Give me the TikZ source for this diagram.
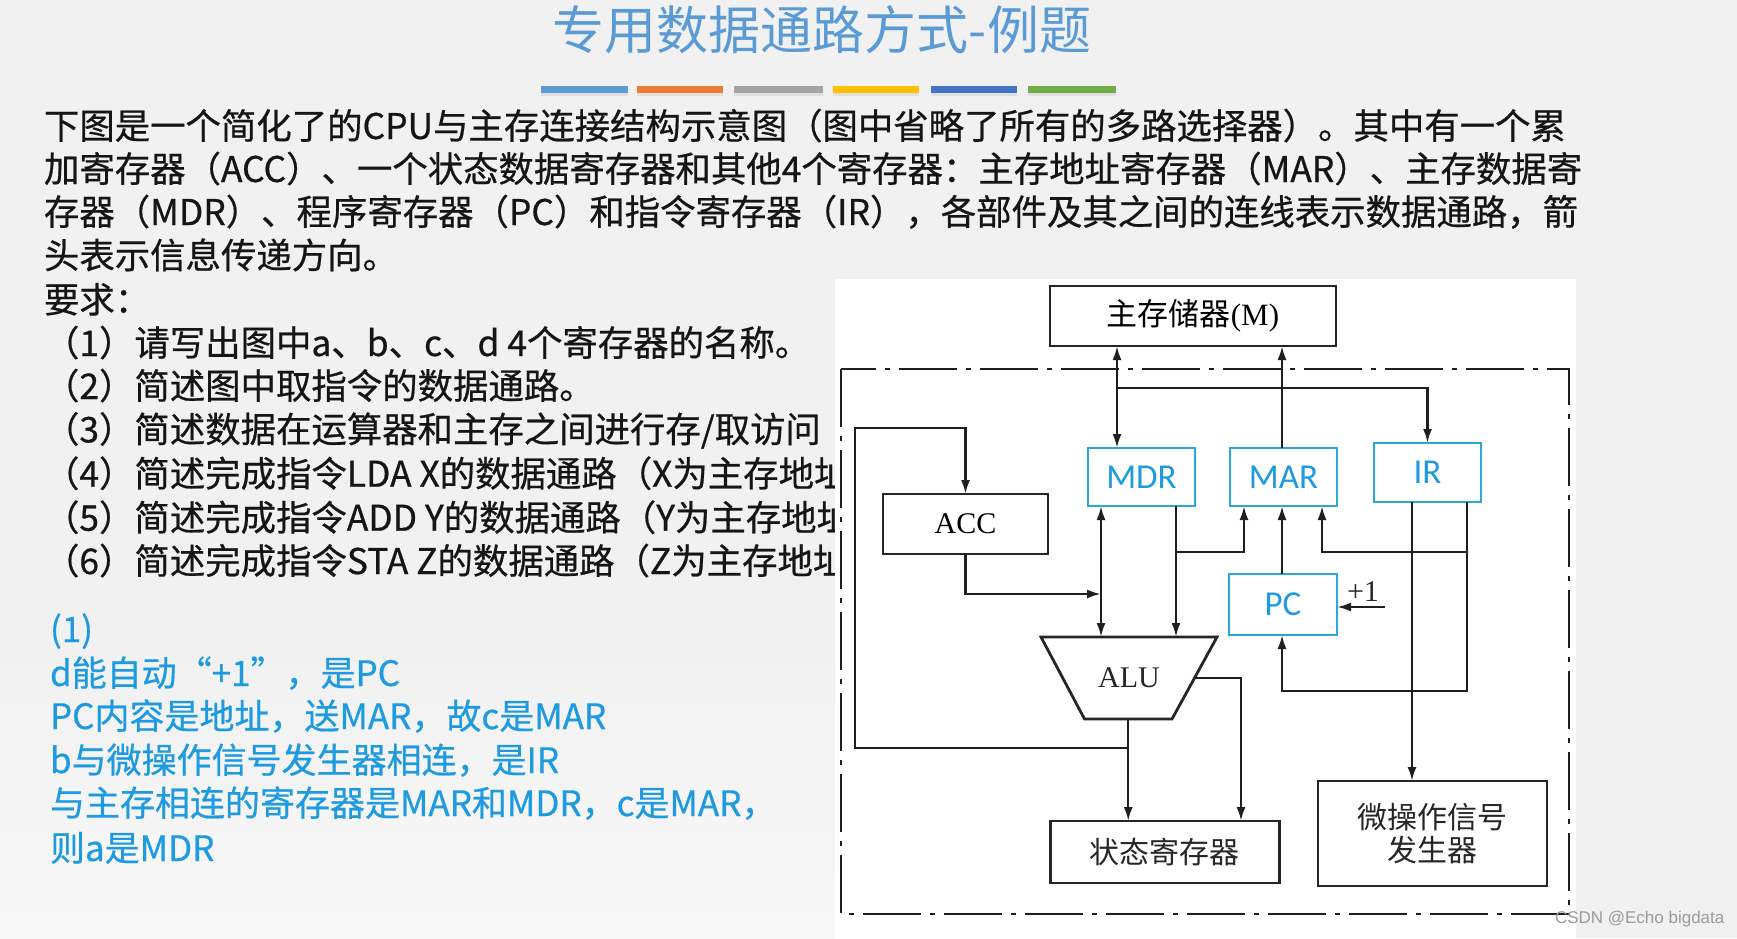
\documentclass[tikz,border=0pt]{standalone}
\usepackage{fontspec}
\setmainfont{Noto Sans CJK SC}
\newfontfamily\cjkfont{Noto Sans CJK SC}
\newfontfamily\cjkbold[FakeBold=0.6]{Noto Sans CJK SC}
\newfontfamily\timesfont{Liberation Serif}
\newfontfamily\calfont{Carlito}
\newfontfamily\wmfont{Liberation Sans}
\usetikzlibrary{arrows.meta}
\definecolor{bgcol}{HTML}{F1F1F1}
\definecolor{bgcolb}{HTML}{F8F8F8}
\definecolor{titleblue}{HTML}{5B9BD5}
\definecolor{ansblue}{HTML}{1E9BE0}
\definecolor{boxcyan}{HTML}{2AA8DE}
\definecolor{txt}{HTML}{151515}
\definecolor{barA}{HTML}{5B9BD5}
\definecolor{barB}{HTML}{ED7D31}
\definecolor{barC}{HTML}{A5A5A5}
\definecolor{barD}{HTML}{FFC000}
\definecolor{barE}{HTML}{4472C4}
\definecolor{barF}{HTML}{70AD47}
\definecolor{wmgray}{HTML}{9A9A9A}
\begin{document}
\begin{tikzpicture}[x=1pt,y=-1pt,
  every node/.style={inner sep=0pt,outer sep=0pt},
  body/.style={anchor=base west,font=\cjkbold\fontsize{35.4}{43}\selectfont,text=txt},
  ans/.style={anchor=base west,font=\cjkbold\fontsize{35}{43}\selectfont,text=ansblue},
  blkbox/.style={draw=black!85,line width=2.8pt,fill=white},
  regbox/.style={draw=boxcyan,line width=1.8pt,fill=white,text=ansblue,font=\calfont\fontsize{35}{35}\selectfont,minimum width=107pt,minimum height=58pt},
  wire/.style={draw=black!88,line width=2.4pt},
  arr/.style={wire,-{Latex[length=14pt,width=9pt]}},
  darr/.style={wire,{Latex[length=14pt,width=9pt]}-{Latex[length=14pt,width=9pt]}},
  boundary/.style={draw=black!88,line width=2.5pt,dash pattern=on 58pt off 9pt on 5pt off 9pt},
  cjklabel/.style={font=\cjkfont\fontsize{30}{33}\selectfont,text=black!85}
]
% background
\fill[bgcol] (0,0) rectangle (1737,938);
\useasboundingbox (0,0) rectangle (1737,938);
\shade[top color=bgcol,bottom color=bgcolb] (0,640) rectangle (835,938);

% title
\node[font=\cjkfont\fontsize{52}{52}\selectfont,text=titleblue,anchor=base] (title) at (822,49) {专用数据通路方式-例题};

% colour bars
\fill[black!12] (541,90) rectangle (628,96);
\fill[black!12] (637,90) rectangle (723,96);
\fill[black!12] (734,90) rectangle (823,96);
\fill[black!12] (833,90) rectangle (919,96);
\fill[black!12] (931,90) rectangle (1017,96);
\fill[black!12] (1028,90) rectangle (1116,96);
\fill[barA] (541,86) rectangle (628,93);
\fill[barB] (637,86) rectangle (723,93);
\fill[barC] (734,86) rectangle (823,93);
\fill[barD] (833,86) rectangle (919,93);
\fill[barE] (931,86) rectangle (1017,93);
\fill[barF] (1028,86) rectangle (1116,93);

% question text
\node[body] (q1) at (44,139) {下图是一个简化了的CPU与主存连接结构示意图（图中省略了所有的多路选择器）。其中有一个累};
\node[body] (q2) at (44,182) {加寄存器（ACC）、一个状态数据寄存器和其他4个寄存器：主存地址寄存器（MAR）、主存数据寄};
\node[body] (q3) at (44,225) {存器（MDR）、程序寄存器（PC）和指令寄存器（IR），各部件及其之间的连线表示数据通路，箭};
\node[body] (q4) at (44,268.5) {头表示信息传递方向。};
\node[body] (q5) at (44,312.7) {要求：};
\node[body] (r1) at (44,356) {（1）请写出图中a、b、c、d 4个寄存器的名称。};
\node[body] (r2) at (44,399) {（2）简述图中取指令的数据通路。};
\node[body] (r3) at (44,442.4) {（3）简述数据在运算器和主存之间进行存/取访问};
\node[body] (r4) at (44,486.7) {（4）简述完成指令LDA X的数据通路（X为主存地址};
\node[body] (r5) at (44,530.7) {（5）简述完成指令ADD Y的数据通路（Y为主存地址};
\node[body] (r6) at (44,574) {（6）简述完成指令STA Z的数据通路（Z为主存地址};

% answer text
\node[ans] (a0) at (50,642) {(1)};
\node[ans] (a1) at (50,686) {d能自动“+1”，是PC};
\node[ans] (a2) at (50,729) {PC内容是地址，送MAR，故c是MAR};
\node[ans] (a3) at (50,773) {b与微操作信号发生器相连，是IR};
\node[ans] (a4) at (50,816) {与主存相连的寄存器是MAR和MDR，c是MAR，};
\node[ans] (a5) at (50,861) {则a是MDR};

% diagram panel
\fill[white] (835,279) rectangle (1576,938);
\draw[boundary] (841,369) rectangle (1569,914);

% boxes
\node[blkbox,minimum width=286pt,minimum height=60pt] (M) at (1193,316)
  {\fontsize{31}{31}\selectfont\cjkfont 主存储器\timesfont (M)};
\node[regbox] (MDR) at (1141.5,477) {MDR};
\node[regbox] (MAR) at (1283.5,477) {MAR};
\node[regbox,minimum height=59pt] (IR) at (1427.5,472.5) {IR};
\node[regbox,minimum width=108pt,minimum height=61pt] (PC) at (1283,604.5) {PC};
\node[blkbox,minimum width=165pt,minimum height=60pt,font=\timesfont\fontsize{30}{30}\selectfont] (ACC) at (965.5,524) {ACC};
\node[blkbox,minimum width=229pt,minimum height=62pt,cjklabel] (SR) at (1164.75,852) {状态寄存器};
\node[blkbox,minimum width=229pt,minimum height=105pt,cjklabel,align=center] (CU) at (1432.5,833.5) {微操作信号\\发生器};

% ALU trapezoid
\coordinate (aluTL) at (1041,637);
\coordinate (aluTR) at (1217,637);
\coordinate (aluBR) at (1172,719);
\coordinate (aluBL) at (1084.5,719);
\coordinate (aluR) at (1194.5,678);
\coordinate (aluB) at (1128.25,719);
\draw[black!85,line width=2.8pt,fill=white,line join=miter] (aluTL) -- (aluTR) -- (aluBR) -- (aluBL) -- cycle;
\node[font=\timesfont\fontsize{30}{30}\selectfont,text=black!85] (ALU) at (1129,678) {ALU};

% helper coordinates
\coordinate (xa) at (1117,0);
\coordinate (xb) at (1282,0);
\coordinate (xc) at (1101,0);
\coordinate (xd) at (1176,0);
\coordinate (xe) at (1244,0);
\coordinate (xf) at (1322,0);
\coordinate (xg) at (1412,0);
\coordinate (xh) at (1467,0);
\coordinate (xi) at (1241,0);
\coordinate (xl) at (855,0);
\coordinate (yb) at (0,388);
\coordinate (yc) at (0,552);
\coordinate (yd) at (0,691);
\coordinate (ye) at (0,748);
\coordinate (yf) at (0,428);
\coordinate (yg) at (0,594);
\coordinate (plus) at (1385,607);

% connectors
\draw[darr] (MDR.north -| xa) -- (M.south -| xa);
\draw[arr] (xa |- yb) -| (IR.north);
\draw[arr] (MAR.north -| xb) -- (M.south -| xb);
\draw[darr] (MDR.south -| xc) -- (aluTL -| xc);
\draw[arr] (ACC.south) |- (xc |- yg);
\draw[arr] (MDR.south -| xd) -- (aluTL -| xd);
\draw[arr] (xd |- yc) -| (MAR.south -| xe);
\draw[arr] (PC.north -| xb) -- (MAR.south -| xb);
\draw[arr] (IR.south -| xh) |- (xf |- yc) -- (MAR.south -| xf);
\draw[arr] (IR.south -| xh) |- (xb |- yd) -- (PC.south -| xb);
\draw[arr] (IR.south -| xg) -- (CU.north -| xg);
\draw[arr] (aluB) -- (SR.north -| aluB);
\draw[arr] (aluB |- ye) -| (xl |- yf) -| (ACC.north);
\draw[arr] (aluR) -| (SR.north -| xi);
\draw[arr] (plus) -- (PC.east |- plus);
\node[font=\timesfont\fontsize{30}{30}\selectfont,text=black!85] (p1) at (1363,592) {+1};

% watermark
\node[font=\wmfont\fontsize{17}{17}\selectfont,text=wmgray,anchor=west] (wm) at (1555,919) {CSDN @Echo bigdata};
\end{tikzpicture}
\end{document}
